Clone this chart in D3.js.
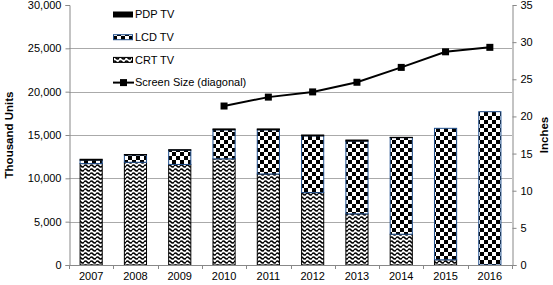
<!DOCTYPE html>
<html>
<head>
<meta charset="utf-8">
<script src="https://cdn.jsdelivr.net/npm/d3@7"></script>
<style>
  body { margin: 0; background: #fff; }
  text { font-family: "Liberation Sans", Arial, sans-serif; fill: #000; }
</style>
</head>
<body>
<div id="chart"></div>
<script>
// data
var years = ["2007","2008","2009","2010","2011","2012","2013","2014","2015","2016"];
var crt = [11700, 11850, 11600, 12250, 10500, 8350, 5900, 3550, 600, 0];
var lcd = [400, 850, 1650, 3350, 5100, 6550, 8400, 11150, 15170, 17690];
var pdp = [100, 50, 50, 100, 100, 100, 120, 30, 0, 0];
var screenYears = ["2010","2011","2012","2013","2014","2015","2016"];
var screenSize = [21.4, 22.6, 23.3, 24.6, 26.6, 28.7, 29.3];
var leftTicks = [0, 5000, 10000, 15000, 20000, 25000, 30000];
var rightTicks = [0, 5, 10, 15, 20, 25, 30, 35];

var W = 553, H = 285;
var margin = {top: 5, right: 41, bottom: 20, left: 69};
var x0 = margin.left, x1 = W - margin.right, y0 = H - margin.bottom, y1 = margin.top;

var svg = d3.select("#chart").append("svg")
    .attr("width", W)
    .attr("height", H);

// patterns
var defs = svg.append("defs");
var checker = defs.append("pattern")
    .attr("id", "checker")
    .attr("patternUnits", "userSpaceOnUse")
    .attr("width", 8).attr("height", 8);
checker.append("rect").attr("width", 8).attr("height", 8).attr("fill", "#000");
checker.append("rect").attr("x", 0).attr("y", 0).attr("width", 4).attr("height", 4).attr("fill", "#fff");
checker.append("rect").attr("x", 4).attr("y", 4).attr("width", 4).attr("height", 4).attr("fill", "#fff");

var wave = defs.append("pattern")
    .attr("id", "wave")
    .attr("patternUnits", "userSpaceOnUse")
    .attr("width", 6).attr("height", 4);
wave.append("rect").attr("width", 6).attr("height", 4).attr("fill", "#fff");
wave.append("path")
    .attr("d", "M0,2 Q1.5,-0.2 3,2 T6,2")
    .attr("fill", "none")
    .attr("stroke", "#000")
    .attr("stroke-width", 1.5);

// scales
var x = d3.scaleBand().domain(years).range([x0, x1]).paddingInner(0.5).paddingOuter(0.25);
var y = d3.scaleLinear().domain([0, 30000]).range([y0, y1]);
var yR = d3.scaleLinear().domain([0, 35]).range([y0, y1]);

// gridlines
svg.append("g")
  .selectAll("line")
  .data(leftTicks.filter(function(d){ return d > 0 && d < 30000; }))
  .enter().append("line")
    .attr("x1", x0).attr("x2", x1)
    .attr("y1", function(d){ return Math.round(y(d)) + 0.5; })
    .attr("y2", function(d){ return Math.round(y(d)) + 0.5; })
    .attr("stroke", "#aaa");

// stacked bars
var rows = years.map(function(yr, i){ return {year: yr, CRT: crt[i], LCD: lcd[i], PDP: pdp[i]}; });
var keys = ["CRT", "LCD", "PDP"];
var stacked = d3.stack().keys(keys)(rows);
var fills = {CRT: "url(#wave)", LCD: "url(#checker)", PDP: "#000"};
var strokes = {CRT: "#000", LCD: "#1f4e8c", PDP: "#000"};

svg.append("g")
  .selectAll("g")
  .data(stacked)
  .enter().append("g")
    .attr("fill", function(d){ return fills[d.key]; })
    .attr("stroke", function(d){ return strokes[d.key]; })
  .selectAll("rect")
  .data(function(d){ return d.filter(function(s){ return s[1] - s[0] > 0; }); })
  .enter().append("rect")
    .attr("x", function(d){ return x(d.data.year); })
    .attr("y", function(d){ return y(d[1]); })
    .attr("width", x.bandwidth())
    .attr("height", function(d){ return y(d[0]) - y(d[1]); })
    .attr("stroke-width", 1);

// x axis line + ticks at band edges
var xAxis = svg.append("g");
xAxis.append("line")
    .attr("x1", x0).attr("x2", x1)
    .attr("y1", y0 + 0.5).attr("y2", y0 + 0.5)
    .attr("stroke", "#888");
var edges = years.map(function(d){ return x(d) - x.step() * x.paddingInner() / 2; }).concat([x1]);
xAxis.selectAll("line.tk").data(edges).enter().append("line")
    .attr("class", "tk")
    .attr("x1", function(d){ return Math.round(d) + 0.5; })
    .attr("x2", function(d){ return Math.round(d) + 0.5; })
    .attr("y1", y0).attr("y2", y0 + 4)
    .attr("stroke", "#888");
xAxis.selectAll("text").data(years).enter().append("text")
    .attr("x", function(d){ return x(d) + x.bandwidth() / 2; })
    .attr("y", y0 + 15)
    .attr("text-anchor", "middle")
    .style("font-size", "11px")
    .text(function(d){ return d; });

// left axis
var fmt = d3.format(",");
svg.append("g")
    .attr("transform", "translate(" + (x0 + 0.5) + ",0)")
    .call(d3.axisLeft(y).tickValues(leftTicks).tickSize(4).tickFormat(fmt))
    .call(function(g){
      g.select(".domain").attr("stroke", "#888");
      g.selectAll(".tick line").attr("stroke", "#888");
      g.selectAll(".tick text").attr("x", -8).style("font-size", "11px").style("font-family", "Liberation Sans, Arial, sans-serif");
    });

// right axis
svg.append("g")
    .attr("transform", "translate(" + (x1 + 0.5) + ",0)")
    .call(d3.axisRight(yR).tickValues(rightTicks).tickSize(4))
    .call(function(g){
      g.select(".domain").attr("stroke", "#888");
      g.selectAll(".tick line").attr("stroke", "#888");
      g.selectAll(".tick text").attr("x", 8).style("font-size", "11px").style("font-family", "Liberation Sans, Arial, sans-serif");
    });

// axis titles
svg.append("text")
    .attr("transform", "translate(13," + ((y0 + y1) / 2) + ") rotate(-90)")
    .attr("text-anchor", "middle")
    .style("font-size", "11.5px")
    .style("font-weight", "bold")
    .text("Thousand Units");
svg.append("text")
    .attr("transform", "translate(" + (W - 5) + "," + ((y0 + y1) / 2) + ") rotate(-90)")
    .attr("text-anchor", "middle")
    .style("font-size", "11.5px")
    .style("font-weight", "bold")
    .text("Inches");

// screen size line
var linePts = screenYears.map(function(d, i){ return {year: d, v: screenSize[i]}; });
var line = d3.line()
    .x(function(d){ return x(d.year) + x.bandwidth() / 2; })
    .y(function(d){ return yR(d.v); });
svg.append("path")
    .datum(linePts)
    .attr("d", line)
    .attr("fill", "none")
    .attr("stroke", "#000")
    .attr("stroke-width", 2);
svg.append("g").selectAll("rect")
  .data(linePts)
  .enter().append("rect")
    .attr("x", function(d){ return x(d.year) + x.bandwidth() / 2 - 3.5; })
    .attr("y", function(d){ return yR(d.v) - 3.5; })
    .attr("width", 7).attr("height", 7)
    .attr("fill", "#000");

// legend
var legend = [
  {name: "PDP TV", fill: "#000", stroke: "#000"},
  {name: "LCD TV", fill: "url(#checker)", stroke: "#1f4e8c"},
  {name: "CRT TV", fill: "url(#wave)", stroke: "#000"}
];
var lg = svg.append("g").attr("transform", "translate(113,0)");
lg.selectAll("rect")
  .data(legend)
  .enter().append("rect")
    .attr("x", 0.5)
    .attr("y", function(d, i){ return 12 + i * 22.7; })
    .attr("width", 19).attr("height", 5)
    .attr("fill", function(d){ return d.fill; })
    .attr("stroke", function(d){ return d.stroke; });
lg.selectAll("text.lab")
  .data(legend.map(function(d){ return d.name; }).concat(["Screen Size (diagonal)"]))
  .enter().append("text")
    .attr("class", "lab")
    .attr("x", 22)
    .attr("y", function(d, i){ return 14.5 + i * 22.7; })
    .attr("dy", "0.35em")
    .style("font-size", "11px")
    .text(function(d){ return d; });
lg.append("line")
    .attr("x1", 0).attr("x2", 21)
    .attr("y1", 82.6).attr("y2", 82.6)
    .attr("stroke", "#000").attr("stroke-width", 2);
lg.append("rect")
    .attr("x", 7).attr("y", 79.1)
    .attr("width", 7).attr("height", 7)
    .attr("fill", "#000");
</script>
</body>
</html>
